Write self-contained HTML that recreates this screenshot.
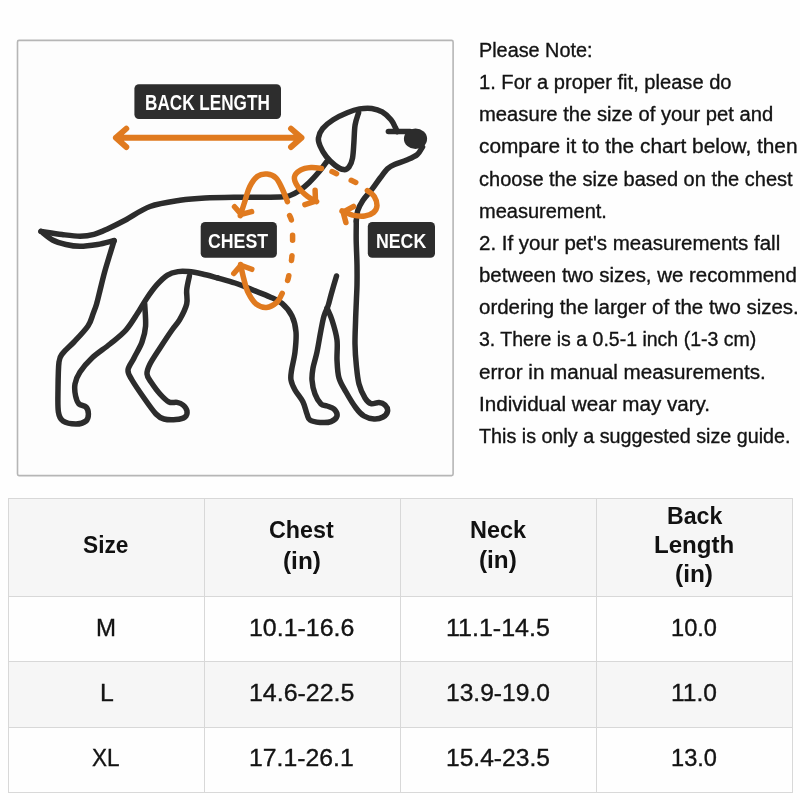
<!DOCTYPE html>
<html lang="en">
<head>
<meta charset="utf-8">
<title>Pet Size Guide</title>
<style>
html,body{margin:0;padding:0;}
body{width:800px;height:800px;position:relative;overflow:hidden;background:#fefefe;font-family:"Liberation Sans",sans-serif;}
.t{-webkit-text-stroke:0.35px currentColor;position:absolute;white-space:nowrap;line-height:1;transform-origin:0 0;display:block;}
.tbl{position:absolute;left:8px;top:498px;width:783px;height:293px;border:1px solid #d8d8d8;background:#fefefe;}
.hd{position:absolute;left:0;top:0;width:100%;height:97px;background:#f6f6f6;}
.r2{position:absolute;left:0;top:162.5px;width:100%;height:65.5px;background:#f6f6f6;}
.hl{position:absolute;left:0;width:100%;height:1px;background:#d8d8d8;}
.vl{position:absolute;top:0;height:100%;width:1px;background:#d8d8d8;}
svg{position:absolute;left:0;top:0;}
.t.b{-webkit-text-stroke:0;}
.txt{position:absolute;left:0;top:0;width:800px;height:800px;filter:grayscale(1);}
</style>
</head>
<body>
<div class="tbl">
  <div class="hd"></div>
  <div class="r2"></div>
  <div class="hl" style="top:97px"></div>
  <div class="hl" style="top:161.5px"></div>
  <div class="hl" style="top:228px"></div>
  <div class="vl" style="left:195px"></div>
  <div class="vl" style="left:391px"></div>
  <div class="vl" style="left:587px"></div>
</div>
<svg width="800" height="800" viewBox="0 0 800 800">
<rect x="17.5" y="40.4" width="435.6" height="435.2" rx="1.5" fill="#fdfdfd" stroke="#b6b6b6" stroke-width="1.6"/>
<rect x="134.4" y="84.2" width="146.6" height="34.8" rx="4.5" fill="#2d2d2d"/>
<rect x="200.7" y="221.9" width="76.2" height="35.8" rx="4.5" fill="#2d2d2d"/>
<rect x="367.8" y="221.9" width="67.2" height="35.8" rx="4.5" fill="#2d2d2d"/>
<path d="M326.5 162.0C325.4 163.5 322.6 167.6 319.7 171.0C316.8 174.4 312.7 179.1 309.2 182.4C305.7 185.8 301.9 188.9 298.7 191.1C295.5 193.3 293.1 194.5 290.0 195.5C286.9 196.5 287.9 196.7 280.0 197.0C272.1 197.3 255.0 197.0 242.5 197.2C230.0 197.4 215.4 197.5 205.0 198.0C194.6 198.5 189.2 198.9 180.0 200.3C170.8 201.7 159.1 203.2 150.0 206.5C140.9 209.8 132.5 216.3 125.5 220.0C118.5 223.7 113.2 226.3 108.0 228.7C102.8 231.1 98.7 233.2 94.0 234.4C89.3 235.7 85.3 236.2 80.0 236.2C74.7 236.2 68.5 235.3 62.0 234.5C55.5 233.7 44.5 231.9 41.0 231.4" fill="none" stroke="#2c2c2c" stroke-width="5.5" stroke-linecap="round" stroke-linejoin="round"/>
<path d="M41.0 231.4C42.9 232.8 48.3 237.8 52.5 240.0C56.7 242.2 61.4 243.4 66.0 244.5C70.6 245.6 74.8 246.3 80.0 246.3C85.2 246.3 91.8 245.4 97.5 244.5C103.2 243.6 111.3 241.2 114.1 240.6" fill="none" stroke="#2c2c2c" stroke-width="5.5" stroke-linecap="round" stroke-linejoin="round"/>
<path d="M114.1 240.6C113.4 243.0 111.3 249.7 109.7 255.0C108.1 260.3 106.1 266.7 104.5 272.5C102.9 278.3 101.4 284.8 100.1 290.0C98.8 295.2 97.8 300.0 96.6 304.0C95.4 308.0 94.4 310.3 93.0 314.0C91.6 317.7 91.2 321.3 88.0 326.0C84.8 330.7 78.2 337.5 74.0 342.0C69.8 346.5 65.5 349.7 63.0 353.0C60.5 356.3 59.8 355.8 59.0 362.0C58.2 368.2 58.1 381.7 58.0 390.0C57.9 398.3 57.6 406.8 58.4 412.0C59.2 417.2 60.1 419.0 63.0 421.0C65.9 423.0 72.2 424.0 76.0 424.0C79.8 424.0 83.9 422.7 86.0 421.0C88.1 419.3 88.4 416.3 88.4 414.0C88.4 411.7 87.6 408.7 86.0 407.0C84.4 405.3 80.7 405.8 79.0 404.0C77.3 402.2 76.3 399.3 75.6 396.0C74.9 392.7 74.3 388.0 75.0 384.0C75.7 380.0 77.2 376.3 80.0 372.0C82.8 367.7 87.0 362.7 92.0 358.0C97.0 353.3 104.3 348.7 110.0 344.0C115.7 339.3 121.4 335.2 126.0 330.0C130.6 324.8 134.3 318.2 137.7 313.0C141.1 307.8 143.3 303.4 146.5 298.7C149.7 294.0 153.5 288.6 157.0 284.7C160.5 280.8 164.0 277.3 167.5 275.1C171.0 272.9 174.5 272.2 178.0 271.6C181.5 271.0 184.4 271.2 188.5 271.6C192.6 272.0 197.7 273.0 202.5 274.0C207.3 275.0 215.0 277.2 217.5 277.8" fill="none" stroke="#2c2c2c" stroke-width="5.5" stroke-linecap="round" stroke-linejoin="round"/>
<path d="M217.5 277.8C220.4 278.7 229.2 281.0 235.0 283.0C240.8 285.0 246.7 287.6 252.5 289.9C258.3 292.2 265.1 294.6 270.0 296.9C274.9 299.1 278.3 300.2 282.0 303.4C285.7 306.6 289.7 311.2 292.0 316.0C294.3 320.8 295.5 326.0 296.0 332.0C296.5 338.0 295.7 345.7 295.0 352.0C294.3 358.3 292.3 365.3 291.6 370.0C290.9 374.7 290.4 376.7 291.0 380.0C291.6 383.3 293.0 386.3 295.0 390.0C297.0 393.7 301.0 398.0 303.0 402.0C305.0 406.0 305.8 411.0 307.0 414.0C308.2 417.0 307.8 418.6 310.0 420.0C312.2 421.4 316.5 422.1 320.0 422.4C323.5 422.7 328.2 422.7 331.0 421.6C333.8 420.5 336.5 418.1 337.0 416.0C337.5 413.9 335.7 410.7 334.0 409.0C332.3 407.3 329.2 406.8 327.0 406.0C324.8 405.2 323.0 406.0 321.0 404.0C319.0 402.0 316.5 398.0 315.0 394.0C313.5 390.0 312.3 384.3 312.0 380.0C311.7 375.7 312.2 372.7 313.0 368.0C313.8 363.3 315.7 358.3 317.0 352.0C318.3 345.7 319.8 336.0 321.0 330.0C322.2 324.0 322.8 320.0 324.0 316.0C325.2 312.0 326.8 309.6 328.0 306.0C329.2 302.4 329.8 299.2 331.2 294.2C332.6 289.2 335.6 279.0 336.5 276.0" fill="none" stroke="#2c2c2c" stroke-width="5.5" stroke-linecap="round" stroke-linejoin="round"/>
<path d="M144.7 304.0C144.8 307.7 146.0 319.7 145.6 326.0C145.2 332.3 143.9 336.7 142.0 342.0C140.1 347.3 136.3 353.3 134.0 358.0C131.7 362.7 128.3 366.3 128.0 370.0C127.7 373.7 129.3 375.3 132.0 380.0C134.7 384.7 140.0 392.3 144.0 398.0C148.0 403.7 152.7 410.5 156.0 414.0C159.3 417.5 160.7 418.1 164.0 419.0C167.3 419.9 172.5 419.9 176.0 419.6C179.5 419.3 183.2 418.4 185.0 417.0C186.8 415.6 187.3 413.0 187.0 411.0C186.7 409.0 184.7 406.4 183.0 405.0C181.3 403.6 179.3 402.9 177.0 402.4C174.7 401.9 171.8 403.4 169.0 402.0C166.2 400.6 163.0 397.3 160.0 394.0C157.0 390.7 153.2 385.3 151.0 382.0C148.8 378.7 147.2 377.0 147.0 374.0C146.8 371.0 147.8 368.3 150.0 364.0C152.2 359.7 156.3 353.7 160.0 348.0C163.7 342.3 168.7 334.7 172.0 330.0C175.3 325.3 177.2 324.0 179.7 319.7C182.1 315.4 185.5 308.9 186.7 304.0C187.9 299.1 186.2 294.7 186.7 290.0C187.1 285.3 188.9 278.3 189.4 276.0" fill="none" stroke="#2c2c2c" stroke-width="5.5" stroke-linecap="round" stroke-linejoin="round"/>
<path d="M356.3 221.0C356.3 224.2 356.1 232.7 356.2 240.0C356.3 247.3 356.9 257.5 357.0 265.0C357.1 272.5 357.1 279.2 357.0 285.0C356.9 290.8 356.6 294.2 356.4 300.0C356.2 305.8 355.8 312.7 355.6 320.0C355.4 327.3 354.9 336.3 355.0 344.0C355.1 351.7 355.7 359.3 356.4 366.0C357.1 372.7 357.6 378.7 359.0 384.0C360.4 389.3 363.0 394.7 365.0 398.0C367.0 401.3 368.7 402.9 371.0 403.6C373.3 404.3 376.7 402.2 379.0 402.4C381.3 402.6 383.6 403.6 385.0 405.0C386.4 406.4 387.9 409.0 387.6 411.0C387.3 413.0 385.3 415.7 383.0 417.0C380.7 418.3 377.2 419.2 374.0 419.0C370.8 418.8 367.0 417.8 364.0 416.0C361.0 414.2 359.0 412.0 356.0 408.0C353.0 404.0 348.8 397.0 346.0 392.0C343.2 387.0 340.5 383.3 339.0 378.0C337.5 372.7 337.3 366.3 337.0 360.0C336.7 353.7 337.8 346.7 337.0 340.0C336.2 333.3 333.7 325.3 332.0 320.0C330.3 314.7 327.8 310.0 327.0 308.0" fill="none" stroke="#2c2c2c" stroke-width="5.5" stroke-linecap="round" stroke-linejoin="round"/>
<path d="M422.5 146.9C421.6 148.2 419.8 152.5 417.2 154.7C414.6 156.9 410.5 158.4 406.7 160.0C402.9 161.6 397.7 163.0 394.5 164.4C391.3 165.8 389.8 166.5 387.5 168.7C385.2 170.9 383.1 174.0 380.5 177.5C377.9 181.0 374.6 185.9 371.7 189.7C368.8 193.5 365.3 196.7 363.0 200.2C360.7 203.7 358.8 207.2 357.7 210.7C356.6 214.2 356.5 219.3 356.3 221.0" fill="none" stroke="#2c2c2c" stroke-width="5.5" stroke-linecap="round" stroke-linejoin="round"/>
<path d="M358.6 112.7C358.0 114.8 355.9 120.0 355.1 125.0C354.3 130.0 354.3 137.0 353.9 142.5C353.5 148.0 353.3 154.1 352.5 158.2C351.7 162.3 350.5 165.1 349.0 167.0C347.5 168.9 346.0 169.9 343.7 169.6C341.4 169.3 337.9 167.4 335.0 165.2C332.1 163.0 328.7 159.7 326.2 156.5C323.7 153.3 321.4 149.1 320.1 146.0C318.8 142.9 318.0 141.0 318.4 138.1C318.8 135.2 320.2 131.6 322.7 128.5C325.2 125.4 329.1 122.3 333.2 119.7C337.3 117.1 342.8 114.5 347.2 112.7C351.6 110.9 355.4 109.6 359.5 108.9C363.6 108.2 367.9 107.9 371.7 108.4C375.5 108.9 379.0 110.0 382.2 111.9C385.4 113.8 388.8 117.1 391.0 119.7C393.2 122.3 394.4 125.6 395.4 127.6C396.4 129.6 396.8 130.9 397.1 131.6" fill="none" stroke="#2c2c2c" stroke-width="5.5" stroke-linecap="round" stroke-linejoin="round"/>
<path d="M388.4 131.6L410 131.6" fill="none" stroke="#2c2c2c" stroke-width="5.5" stroke-linecap="round" stroke-linejoin="round"/>
<ellipse cx="415.5" cy="138.7" rx="11.6" ry="10.2" fill="#2c2c2c"/>
<path d="M116 137.8L301.4 137.8M126.3 128.6L115.9 137.8L126.3 147M291 128.6L301.5 137.8L291 147" fill="none" stroke="#e07a1f" stroke-width="5.9" stroke-linecap="round" stroke-linejoin="round"/>
<path d="M240.3 215.6C241.0 213.4 242.9 207.3 244.5 202.5C246.1 197.7 247.5 191.1 249.7 186.7C251.9 182.3 254.7 178.3 257.6 176.2C260.5 174.1 264.1 173.8 267.2 174.1C270.3 174.4 273.5 175.6 276.0 178.0C278.5 180.4 280.2 184.6 282.1 188.5C284.0 192.4 286.5 199.4 287.4 201.6" fill="none" stroke="#e07a1f" stroke-width="5.5" stroke-linecap="round" stroke-linejoin="round"/>
<path d="M234.5 206.7L241.3 214.4L251.6 211.6" fill="none" stroke="#e07a1f" stroke-width="5.5" stroke-linecap="round" stroke-linejoin="round"/>
<path d="M289.6 215.6C290.0 216.6 291.2 218.0 291.7 221.7C292.2 225.4 292.6 231.9 292.6 238.0C292.6 244.1 292.4 251.9 291.7 258.5C291.0 265.1 289.3 273.4 288.4 277.6C287.4 281.9 286.4 282.9 286.0 284.0" fill="none" stroke="#e07a1f" stroke-width="5.5" stroke-linecap="round" stroke-linejoin="round" stroke-dasharray="5 15.2"/>
<path d="M282.2 293.4C281.3 294.8 279.6 299.8 277.0 302.1C274.4 304.4 270.0 307.1 266.5 307.4C263.0 307.7 259.1 306.4 256.0 303.9C252.9 301.4 250.2 296.7 248.1 292.5C246.0 288.3 244.9 283.2 243.7 278.5C242.4 273.8 241.1 266.8 240.6 264.5" fill="none" stroke="#e07a1f" stroke-width="5.5" stroke-linecap="round" stroke-linejoin="round"/>
<path d="M233.8 273.5L240.9 265.2L251.8 269.3" fill="none" stroke="#e07a1f" stroke-width="5.5" stroke-linecap="round" stroke-linejoin="round"/>
<path d="M321.5 168.4C319.8 168.2 314.5 167.2 311.0 167.5C307.5 167.8 303.3 168.5 300.5 170.1C297.7 171.7 294.8 174.3 294.4 177.1C294.0 179.9 295.7 183.5 297.9 186.7C300.1 189.9 304.4 193.9 307.5 196.4C310.6 198.9 315.1 200.7 316.6 201.6" fill="none" stroke="#e07a1f" stroke-width="5.5" stroke-linecap="round" stroke-linejoin="round"/>
<path d="M315.1 190.3L315.5 201.1L304.9 204.6" fill="none" stroke="#e07a1f" stroke-width="5.5" stroke-linecap="round" stroke-linejoin="round"/>
<path d="M332 171.6L367.4 187.7" fill="none" stroke="#e07a1f" stroke-width="5.5" stroke-linecap="round" stroke-linejoin="round" stroke-dasharray="5 16.1"/>
<path d="M367.4 190.6C368.6 191.6 372.8 194.2 374.4 196.7C376.0 199.2 377.1 202.9 377.0 205.5C376.9 208.1 375.6 210.8 373.5 212.5C371.4 214.2 368.2 215.6 364.7 216.0C361.2 216.4 356.3 215.9 352.5 215.1C348.7 214.2 343.8 211.6 342.0 210.9" fill="none" stroke="#e07a1f" stroke-width="5.5" stroke-linecap="round" stroke-linejoin="round"/>
<path d="M353.6 206.5L343.1 212.1L345.9 222.5" fill="none" stroke="#e07a1f" stroke-width="5.5" stroke-linecap="round" stroke-linejoin="round"/>
</svg>
<div class="txt">
<span class="t" style="left:479.00px;top:39.87px;font-size:20px;font-weight:400;color:#131313;transform:scaleX(0.9911)">Please Note:</span>
<span class="t" style="left:479.00px;top:72.05px;font-size:20px;font-weight:400;color:#131313;transform:scaleX(1.0050)">1. For a proper fit, please do</span>
<span class="t" style="left:479.00px;top:104.23px;font-size:20px;font-weight:400;color:#131313;transform:scaleX(1.0100)">measure the size of your pet and</span>
<span class="t" style="left:479.00px;top:136.41px;font-size:20px;font-weight:400;color:#131313;transform:scaleX(1.0418)">compare it to the chart below, then</span>
<span class="t" style="left:479.00px;top:168.59px;font-size:20px;font-weight:400;color:#131313;transform:scaleX(1.0002)">choose the size based on the chest</span>
<span class="t" style="left:479.00px;top:200.77px;font-size:20px;font-weight:400;color:#131313;transform:scaleX(1.0004)">measurement.</span>
<span class="t" style="left:479.00px;top:232.95px;font-size:20px;font-weight:400;color:#131313;transform:scaleX(1.0247)">2. If your pet&#39;s measurements fall</span>
<span class="t" style="left:479.00px;top:265.13px;font-size:20px;font-weight:400;color:#131313;transform:scaleX(1.0210)">between two sizes, we recommend</span>
<span class="t" style="left:479.00px;top:297.31px;font-size:20px;font-weight:400;color:#131313;transform:scaleX(1.0237)">ordering the larger of the two sizes.</span>
<span class="t" style="left:479.00px;top:329.49px;font-size:20px;font-weight:400;color:#131313;transform:scaleX(0.9757)">3. There is a 0.5-1 inch (1-3 cm)</span>
<span class="t" style="left:479.00px;top:361.67px;font-size:20px;font-weight:400;color:#131313;transform:scaleX(1.0321)">error in manual measurements.</span>
<span class="t" style="left:479.00px;top:393.85px;font-size:20px;font-weight:400;color:#131313;transform:scaleX(1.0309)">Individual wear may vary.</span>
<span class="t" style="left:479.00px;top:426.03px;font-size:20px;font-weight:400;color:#131313;transform:scaleX(0.9866)">This is only a suggested size guide.</span>
<span class="t b" style="left:145.20px;top:92.28px;font-size:22px;font-weight:700;color:#ffffff;transform:scaleX(0.7795)">BACK LENGTH</span>
<span class="t b" style="left:208.20px;top:231.17px;font-size:20px;font-weight:700;color:#ffffff;transform:scaleX(0.8865)">CHEST</span>
<span class="t b" style="left:376.00px;top:231.17px;font-size:20px;font-weight:700;color:#ffffff;transform:scaleX(0.8858)">NECK</span>
<span class="t b" style="left:82.60px;top:533.88px;font-size:23.3px;font-weight:700;color:#111;transform:scaleX(0.9737)">Size</span>
<span class="t b" style="left:269.30px;top:519.38px;font-size:23.3px;font-weight:700;color:#111;transform:scaleX(0.9995)">Chest</span>
<span class="t b" style="left:283.40px;top:549.68px;font-size:23.3px;font-weight:700;color:#111;transform:scaleX(1.0460)">(in)</span>
<span class="t b" style="left:469.50px;top:518.88px;font-size:23.3px;font-weight:700;color:#111;transform:scaleX(1.0071)">Neck</span>
<span class="t b" style="left:479.40px;top:549.08px;font-size:23.3px;font-weight:700;color:#111;transform:scaleX(1.0432)">(in)</span>
<span class="t b" style="left:666.70px;top:504.88px;font-size:23.3px;font-weight:700;color:#111;transform:scaleX(0.9928)">Back</span>
<span class="t b" style="left:653.80px;top:533.68px;font-size:23.3px;font-weight:700;color:#111;transform:scaleX(1.0343)">Length</span>
<span class="t b" style="left:675.00px;top:562.68px;font-size:23.3px;font-weight:700;color:#111;transform:scaleX(1.0487)">(in)</span>
<span class="t" style="left:96.00px;top:615.68px;font-size:24px;font-weight:400;color:#131313;transform:scaleX(1.0000)">M</span>
<span class="t" style="left:248.80px;top:615.68px;font-size:24px;font-weight:400;color:#131313;transform:scaleX(1.0392)">10.1-16.6</span>
<span class="t" style="left:445.80px;top:615.68px;font-size:24px;font-weight:400;color:#131313;transform:scaleX(1.0427)">11.1-14.5</span>
<span class="t" style="left:671.20px;top:615.68px;font-size:24px;font-weight:400;color:#131313;transform:scaleX(0.9846)">10.0</span>
<span class="t" style="left:100.00px;top:681.08px;font-size:24px;font-weight:400;color:#131313;transform:scaleX(1.0330)">L</span>
<span class="t" style="left:248.80px;top:681.08px;font-size:24px;font-weight:400;color:#131313;transform:scaleX(1.0392)">14.6-22.5</span>
<span class="t" style="left:445.80px;top:681.08px;font-size:24px;font-weight:400;color:#131313;transform:scaleX(1.0244)">13.9-19.0</span>
<span class="t" style="left:671.20px;top:681.08px;font-size:24px;font-weight:400;color:#131313;transform:scaleX(1.0236)">11.0</span>
<span class="t" style="left:91.50px;top:745.68px;font-size:24px;font-weight:400;color:#131313;transform:scaleX(0.9367)">XL</span>
<span class="t" style="left:248.80px;top:745.68px;font-size:24px;font-weight:400;color:#131313;transform:scaleX(1.0323)">17.1-26.1</span>
<span class="t" style="left:445.80px;top:745.68px;font-size:24px;font-weight:400;color:#131313;transform:scaleX(1.0244)">15.4-23.5</span>
<span class="t" style="left:671.20px;top:745.68px;font-size:24px;font-weight:400;color:#131313;transform:scaleX(0.9846)">13.0</span>
</div>
</body>
</html>
